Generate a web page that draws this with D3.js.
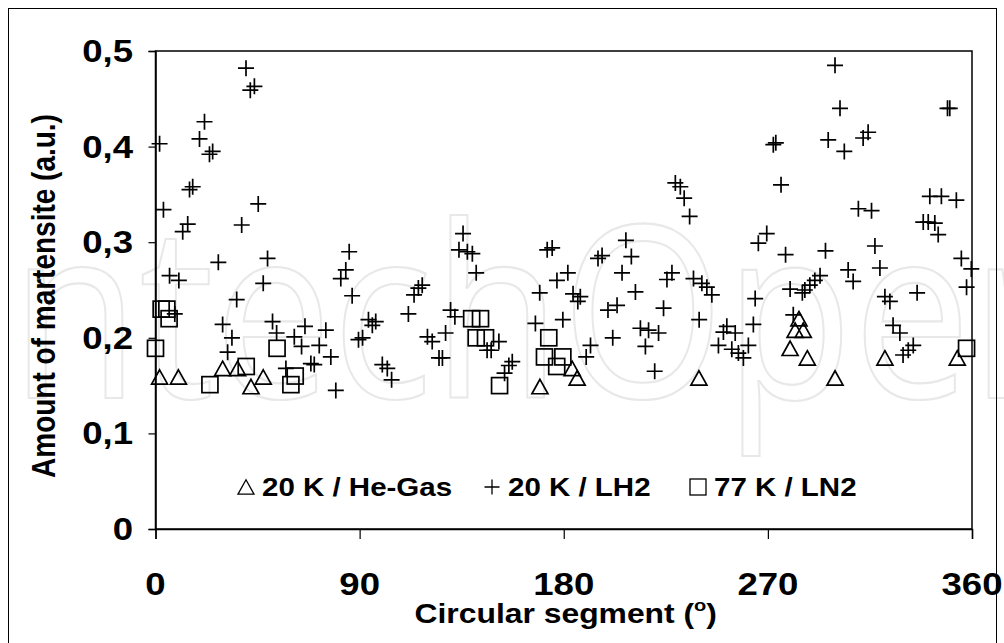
<!DOCTYPE html>
<html><head><meta charset="utf-8">
<script src="https://cdn.jsdelivr.net/npm/d3@7"></script>
<style>html,body{margin:0;padding:0;background:#fff;}svg{display:block;}</style>
</head><body>
<svg id="chart" width="1004" height="643"></svg>
<script>
// ---- data ----
const heGasX = [1.8,10.1,29.6,36.2,42.1,47.5,169.5,183.7,185.9,239.6,279.8,282.0,283.7,285.6,287.4,299.6,321.6,353.5];
const heGasY = [0.159,0.159,0.168,0.168,0.149,0.159,0.149,0.168,0.158,0.158,0.189,0.208,0.220,0.208,0.179,0.158,0.179,0.179];

const ln2X = [0,2.5,5,6,24,40,53.6,59.7,61.6,139.4,143.3,141.4,145.5,151.7,171.5,173.4,176.9,179.6,357.6];
const ln2Y = [0.189,0.230,0.230,0.220,0.151,0.170,0.189,0.151,0.160,0.220,0.220,0.200,0.200,0.150,0.180,0.200,0.170,0.180,0.189];

const lh2X = [1.8,3.5,12.0,14.2,15.0,16.4,19.4,21.6,23.8,25.2,39.9,41.8,43.6,45.3,38.0,27.7,49.4,6.2,10.3,47.5,
  35.8,29.6,33.7,31.8,51.6,53.4,65.9,61.2,75.1,72.2,64.4,77.3,68.5,70.0,57.5,79.5,85.4,83.9,81.7,86.7,
  8.5,93.9,97.1,95.6,91.3,89.5,100.0,102.2,104.1,111.5,114.0,115.9,117.6,119.9,122.0,125.0,126.5,127.9,130.1,132.0,
  135.6,133.8,137.5,139.7,141.4,146.2,148.0,151.4,153.9,155.8,157.3,167.5,169.4,172.7,174.9,177.0,179.6,181.8,184.1,187.3,
  186.2,189.9,191.8,195.1,196.9,199.5,201.6,203.5,205.7,207.4,209.8,211.6,213.8,216.0,217.4,220.1,221.8,224.0,225.5,227.7,
  229.2,231.4,233.1,235.5,237.2,239.7,240.9,243.1,245.3,248.2,250.4,251.9,254.1,255.6,257.0,259.2,261.4,263.6,264.4,265.8,
  269.5,272.4,273.5,275.8,277.8,279.8,281.2,285.2,286.3,288.5,290.7,293.0,295.4,296.6,299.6,301.8,303.7,305.4,307.6,309.9,
  312.0,314.2,315.7,317.2,319.4,321.6,323.8,325.2,328.2,329.6,331.9,334.1,335.8,338.5,340.7,343.6,345.1,341.4,346.5,349.2,
  350.2,353.1,355.3,357.6,359.7];
const lh2Y = [0.403,0.334,0.311,0.319,0.355,0.358,0.408,0.426,0.392,0.395,0.482,0.459,0.463,0.340,0.318,0.279,0.283,0.265,0.260,0.257,
  0.240,0.214,0.200,0.185,0.217,0.205,0.212,0.201,0.208,0.192,0.191,0.180,0.173,0.172,0.168,0.145,0.290,0.271,0.262,0.244,
  0.225,0.219,0.217,0.213,0.200,0.198,0.172,0.168,0.156,0.225,0.245,0.252,0.255,0.201,0.196,0.179,0.179,0.205,0.229,0.222,
  0.309,0.292,0.290,0.288,0.268,0.187,0.187,0.196,0.163,0.171,0.175,0.215,0.247,0.292,0.294,0.260,0.219,0.268,0.246,0.243,
  0.238,0.180,0.192,0.283,0.286,0.229,0.200,0.234,0.268,0.302,0.285,0.248,0.210,0.191,0.208,0.165,0.205,0.231,0.261,0.268,
  0.362,0.358,0.346,0.327,0.262,0.219,0.257,0.253,0.245,0.192,0.206,0.212,0.188,0.205,0.184,0.179,0.192,0.214,0.241,0.299,
  0.309,0.402,0.404,0.360,0.287,0.251,0.224,0.247,0.250,0.255,0.260,0.265,0.291,0.407,0.485,0.440,0.395,0.271,0.259,0.335,
  0.409,0.415,0.333,0.296,0.273,0.243,0.238,0.213,0.205,0.182,0.187,0.192,0.247,0.321,0.321,0.320,0.308,0.348,0.348,0.440,
  0.440,0.344,0.283,0.253,0.272];

const xTicks = [0,90,180,270,360];
const yTicks = [0,0.1,0.2,0.3,0.4,0.5];
const yTickLabels = ["0","0,1","0,2","0,3","0,4","0,5"];
const legendLabels = ["20 K / He-Gas","20 K / LH2","77 K / LN2"];
const xTitle = "Circular segment (";
const yTitle = "Amount of martensite (a.u.)";
const watermark = "IntechOpen";

// ---- layout ----
const svg = d3.select("#chart");
const L = 155.5, R = 972, T = 51, B = 529;
const SX = 1.18; // horizontal stretch of the original picture
const x = d3.scaleLinear().domain([0,360]).range([L,R]);
const y = d3.scaleLinear().domain([0,0.5]).range([B,T]);
const FONT = "'Liberation Sans', Arial, sans-serif";

svg.append("rect").attr("width",1004).attr("height",643).attr("fill","#fff");

// watermark (faint outlined logo text)
const wmG = svg.append("g");
const wm = wmG.append("text").attr("x",0).attr("y",0)
  .attr("font-family","'Open Sans', sans-serif").attr("font-size",240)
  .attr("fill","#fff").attr("stroke","#e8e8e8").attr("stroke-width",2.2)
  .text(watermark);
(function(){
  const n = wm.node();
  const oC = n.getExtentOfChar(6), eC = n.getExtentOfChar(8);
  const oCx = oC.x + oC.width/2, eCx = eC.x + eC.width/2;
  const s = 269/(eCx - oCx);
  const tx = 643 - s*oCx;
  wmG.attr("transform",`translate(${tx},398) scale(${s},1)`);
})();

// outer frame
svg.append("rect").attr("x",8.5).attr("y",8.5).attr("width",988).attr("height",660)
  .attr("fill","none").attr("stroke","#000").attr("stroke-width",1);

// plot frame
svg.append("rect").attr("x",L).attr("y",T).attr("width",R-L).attr("height",B-T)
  .attr("fill","none").attr("stroke","#000").attr("stroke-width",1.5);

// axes (lines and ticks from d3 axes; labels drawn below with stretch)
const gx = svg.append("g").attr("transform",`translate(0,${B})`)
  .call(d3.axisBottom(x).tickValues(xTicks).tickSize(10).tickFormat(""));
gx.select(".domain").attr("stroke-width",1.5);
gx.selectAll(".tick line").attr("stroke-width",1.2);

const gy = svg.append("g").attr("transform",`translate(${L},0)`)
  .call(d3.axisLeft(y).tickValues(yTicks).tickSize(7).tickFormat(""));
gy.select(".domain").attr("stroke-width",1.5);
gy.selectAll(".tick line").attr("stroke-width",1.2);

function stretchedText(px, py, anchor, size, str){
  return svg.append("g").attr("transform",`translate(${px},${py}) scale(${SX},1)`)
    .append("text").attr("text-anchor",anchor).attr("font-family",FONT)
    .attr("font-weight","bold").attr("font-size",size).attr("fill","#000").text(str);
}
xTicks.forEach(v => stretchedText(x(v), 595, "middle", 31, String(v)));
yTicks.forEach((v,i) => stretchedText(133, y(v)+11, "end", 31, yTickLabels[i]));

// axis titles
const xtG = svg.append("g").attr("transform",`translate(${(L+R)/2+2},623) scale(${SX},1)`);
const xt = xtG.append("text").attr("text-anchor","middle")
  .attr("font-family",FONT).attr("font-weight","bold").attr("font-size",27).attr("fill","#000");
xt.append("tspan").text(xTitle);
xt.append("tspan").attr("font-size",17).attr("dy",-12).text("o");
xt.append("tspan").attr("dy",12).text(")");

svg.append("g").attr("transform",`translate(55,${(T+B)/2+6}) rotate(-90) scale(1,${SX})`)
  .append("text").attr("text-anchor","middle").attr("font-family",FONT).attr("font-weight","bold")
  .attr("font-size",28).attr("fill","#000").text(yTitle);

// markers
const plot = svg.append("g");
const triPath = s => { const h = s*0.9; return `M0,${-h/2}L${s/2},${h/2}L${-s/2},${h/2}Z`; };
const plusPath = s => `M${-s/2},0H${s/2}M0,${-s/2}V${s/2}`;

const lnData = ln2X.map((v,i)=>({x:v,y:ln2Y[i]}));
const heData = heGasX.map((v,i)=>({x:v,y:heGasY[i]}));
const lhData = lh2X.map((v,i)=>({x:v,y:lh2Y[i]}));

plot.selectAll(".sq").data(lnData).enter().append("rect")
  .attr("x",d=>x(d.x)-8).attr("y",d=>y(d.y)-8).attr("width",16).attr("height",16)
  .attr("fill","none").attr("stroke","#000").attr("stroke-width",1.7);
plot.selectAll(".tri").data(heData).enter().append("path")
  .attr("d",triPath(16)).attr("transform",d=>`translate(${x(d.x)},${y(d.y)})`)
  .attr("fill","none").attr("stroke","#000").attr("stroke-width",1.7);
plot.selectAll(".pl").data(lhData).enter().append("path")
  .attr("d",plusPath(16)).attr("transform",d=>`translate(${x(d.x)},${y(d.y)})`)
  .attr("fill","none").attr("stroke","#000").attr("stroke-width",1.7);

// legend
const legY = 487;
const legItems = [
  {sx:246, tx:262, label:legendLabels[0], kind:"tri"},
  {sx:492, tx:508, label:legendLabels[1], kind:"plus"},
  {sx:698, tx:714, label:legendLabels[2], kind:"sq"}
];
legItems.forEach(it=>{
  if(it.kind==="tri") svg.append("path").attr("d",triPath(16)).attr("transform",`translate(${it.sx},${legY})`)
    .attr("fill","none").attr("stroke","#000").attr("stroke-width",1.3);
  if(it.kind==="plus") svg.append("path").attr("d",plusPath(15)).attr("transform",`translate(${it.sx},${legY})`)
    .attr("fill","none").attr("stroke","#000").attr("stroke-width",1.3);
  if(it.kind==="sq") svg.append("rect").attr("x",it.sx-8).attr("y",legY-8).attr("width",16).attr("height",16)
    .attr("fill","none").attr("stroke","#000").attr("stroke-width",1.3);
  stretchedText(it.tx, legY+9, "start", 25, it.label);
});
</script>
</body></html>
